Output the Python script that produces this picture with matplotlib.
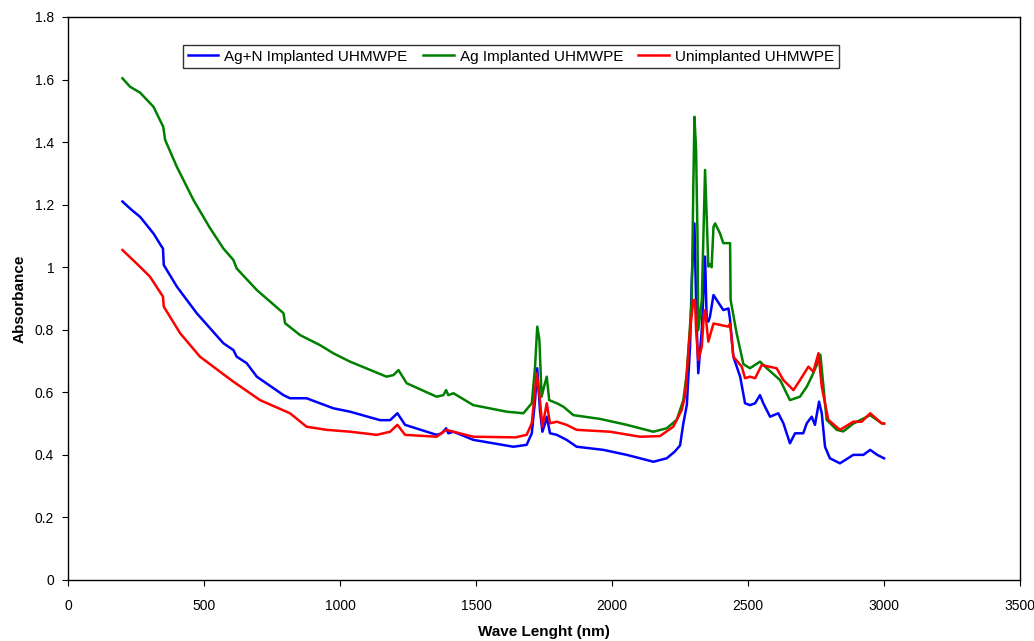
import numpy as np
import matplotlib
matplotlib.use("Agg")
import matplotlib.pyplot as plt
from matplotlib.ticker import FuncFormatter, MultipleLocator

plt.rcParams['font.family'] = ['Liberation Sans Narrow', 'Liberation Sans', 'DejaVu Sans']

# Ag+N Implanted UHMWPE
agn_x = [200, 234, 265, 314, 344, 349, 352, 400, 473, 571, 608, 620, 657, 694, 792, 816,
         877, 975, 1037, 1147, 1184, 1211, 1239, 1355, 1374, 1390, 1398, 1417, 1490, 1637,
         1686, 1705, 1717, 1725, 1735, 1744, 1754, 1760, 1772, 1797, 1833, 1870, 1968, 2054,
         2152, 2201, 2230, 2250, 2262, 2275, 2287, 2293, 2303, 2310, 2317, 2330, 2342, 2348,
         2354, 2360, 2373, 2409, 2428, 2434, 2446, 2471, 2489, 2507, 2526, 2544, 2556, 2581,
         2611, 2630, 2654, 2673, 2703, 2716, 2734, 2746, 2761, 2771, 2783, 2801, 2838, 2887,
         2924, 2949, 2975, 3000]
agn_y = [1.21, 1.183, 1.161, 1.108, 1.066, 1.06, 1.007, 0.938, 0.853, 0.757, 0.735, 0.714,
         0.693, 0.650, 0.591, 0.581, 0.581, 0.549, 0.538, 0.511, 0.511, 0.533, 0.496, 0.464,
         0.469, 0.485, 0.469, 0.474, 0.448, 0.426, 0.432, 0.469, 0.575, 0.677, 0.543, 0.474,
         0.501, 0.522, 0.469, 0.464, 0.448, 0.426, 0.416, 0.400, 0.378, 0.389, 0.41, 0.43,
         0.50, 0.56, 0.75, 0.96, 1.14, 0.85, 0.661, 0.80, 1.034, 0.831, 0.826, 0.842, 0.911,
         0.863, 0.868, 0.831, 0.714, 0.650, 0.565, 0.559, 0.565, 0.591, 0.565, 0.522, 0.533,
         0.501, 0.437, 0.469, 0.469, 0.501, 0.522, 0.496, 0.570, 0.533, 0.426, 0.389, 0.373,
         0.400, 0.400, 0.416, 0.40, 0.389]

# Ag Implanted UHMWPE
ag_x = [200, 228, 265, 314, 350, 357, 400, 461, 522, 571, 608, 620, 694, 792, 798, 853,
        926, 975, 1000, 1037, 1171, 1196, 1215, 1245, 1355, 1380, 1390, 1398, 1417, 1490,
        1613, 1674, 1705, 1717, 1725, 1733, 1741, 1750, 1760, 1769, 1797, 1821, 1858, 1956,
        2054, 2152, 2201, 2238, 2262, 2275, 2293, 2299, 2303, 2309, 2314, 2317, 2330, 2342,
        2348, 2354, 2360, 2366, 2373, 2379, 2397, 2409, 2434, 2436, 2458, 2483, 2507, 2544,
        2569, 2618, 2654, 2691, 2716, 2734, 2759, 2766, 2789, 2826, 2850, 2887, 2949, 2991,
        3000]
ag_y = [1.604, 1.577, 1.558, 1.513, 1.449, 1.407, 1.321, 1.215, 1.125, 1.060, 1.023, 0.996,
        0.927, 0.853, 0.821, 0.783, 0.751, 0.725, 0.714, 0.698, 0.650, 0.655, 0.671, 0.629,
        0.586, 0.591, 0.607, 0.591, 0.597, 0.559, 0.538, 0.533, 0.565, 0.682, 0.810, 0.767,
        0.586, 0.618, 0.650, 0.575, 0.565, 0.554, 0.527, 0.515, 0.496, 0.474, 0.485, 0.512,
        0.575, 0.661, 0.895, 1.268, 1.481, 1.375, 1.108, 0.799, 0.895, 1.311, 1.161, 1.002,
        1.01, 1.0, 1.129, 1.140, 1.108, 1.077, 1.077, 0.895, 0.789, 0.690, 0.677, 0.698,
        0.677, 0.639, 0.575, 0.586, 0.618, 0.650, 0.70, 0.72, 0.512, 0.480, 0.475, 0.50,
        0.527, 0.501, 0.50]

# Unimplanted UHMWPE
un_x = [200, 252, 301, 349, 352, 412, 485, 583, 608, 706, 816, 877, 951, 1037, 1135, 1184,
        1211, 1239, 1355, 1390, 1417, 1490, 1645, 1686, 1705, 1723, 1735, 1744, 1760, 1772,
        1797, 1833, 1870, 1993, 2103, 2176, 2225, 2256, 2268, 2287, 2299, 2305, 2309, 2317,
        2330, 2338, 2342, 2354, 2366, 2373, 2428, 2434, 2446, 2477, 2489, 2507, 2526, 2550,
        2605, 2630, 2667, 2691, 2722, 2740, 2759, 2771, 2795, 2838, 2887, 2918, 2949, 2991,
        3000]
un_y = [1.055, 1.012, 0.970, 0.906, 0.874, 0.789, 0.714, 0.650, 0.634, 0.575, 0.533, 0.490,
        0.480, 0.474, 0.464, 0.474, 0.496, 0.464, 0.458, 0.480, 0.474, 0.458, 0.456, 0.464,
        0.501, 0.661, 0.575, 0.490, 0.565, 0.501, 0.506, 0.496, 0.480, 0.474, 0.458, 0.460,
        0.490, 0.543, 0.586, 0.799, 0.895, 0.895, 0.799, 0.703, 0.746, 0.852, 0.863, 0.762,
        0.799, 0.820, 0.810, 0.82, 0.714, 0.682, 0.645, 0.650, 0.645, 0.687, 0.677, 0.639,
        0.607, 0.639, 0.682, 0.666, 0.725, 0.618, 0.512, 0.480, 0.506, 0.506, 0.533, 0.501,
        0.50]

fig = plt.figure(figsize=(10.34, 6.41), dpi=100)
ax = fig.add_axes([0.0658, 0.0952, 0.9207, 0.8783])

ax.plot(agn_x, agn_y, color='#0000FF', lw=1.8, label='Ag+N Implanted UHMWPE')
ax.plot(ag_x, ag_y, color='#008000', lw=1.8, label='Ag Implanted UHMWPE')
ax.plot(un_x, un_y, color='#FF0000', lw=1.8, label='Unimplanted UHMWPE')

ax.set_xlim(0, 3500)
ax.set_ylim(0, 1.8)
ax.xaxis.set_major_locator(MultipleLocator(500))
ax.yaxis.set_major_locator(MultipleLocator(0.2))
ax.yaxis.set_major_formatter(FuncFormatter(lambda v, p: f'{v:g}'))
ax.tick_params(direction='out', length=4, labelsize=10, pad=6)
ax.tick_params(axis='x', pad=10)
for s in ax.spines.values():
    s.set_linewidth(1.0)

ax.set_xlabel('Wave Lenght (nm)', fontsize=11, fontweight='bold', labelpad=8)
ax.set_ylabel('Absorbance', fontsize=11, fontweight='bold', labelpad=6)

leg = ax.legend(loc='upper left', bbox_to_anchor=(0.121, 0.95), ncol=3, fontsize=11,
                frameon=True, fancybox=False, handlelength=2.0, handletextpad=0.4,
                columnspacing=1.0, borderpad=0.3, borderaxespad=0)
leg.get_frame().set_edgecolor('black')
leg.get_frame().set_linewidth(1.0)

fig.savefig('out.png', dpi=100)
